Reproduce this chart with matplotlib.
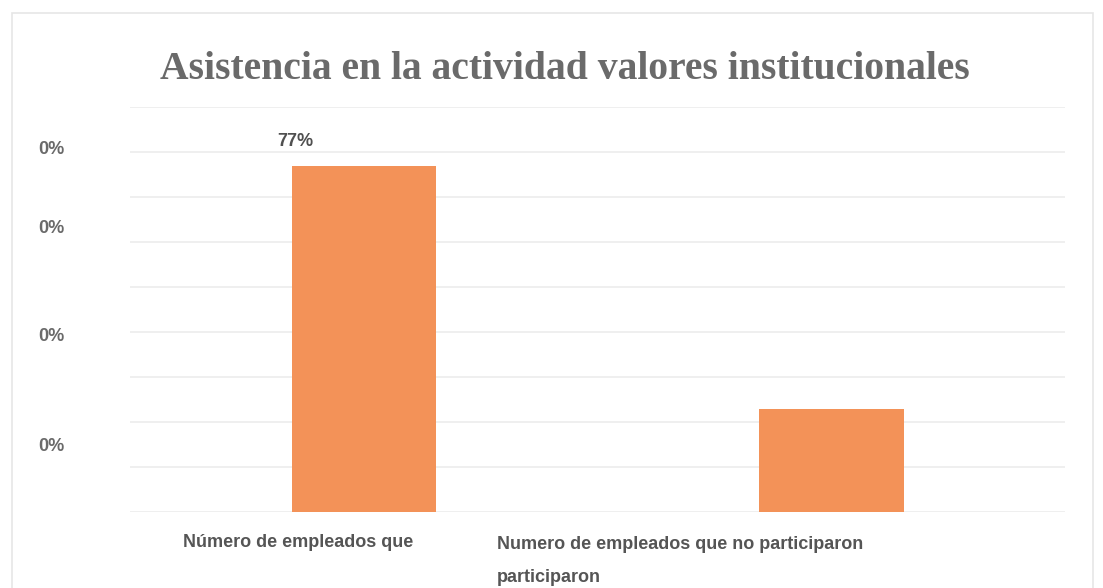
import matplotlib
matplotlib.use("Agg")
import matplotlib.pyplot as plt
from matplotlib.patches import Rectangle
from matplotlib.transforms import blended_transform_factory

# Data
categories = ["Número de empleados que", "Numero de empleados que no participaron"]
shares = [0.77, 0.23]
label_flags = [True, False]
ytick_values = [0.15, 0.395, 0.635, 0.81]
ytick_labels = ["0%", "0%", "0%", "0%"]
title = "Asistencia en la actividad valores institucionales"

bar_color = "#F39258"
grid_color = "#ececec"
text_color = "#555555"

fig = plt.figure(figsize=(11.03, 5.88), dpi=100)
fig.patch.set_facecolor("white")
ax = fig.add_axes([0.118, 0.129, 0.848, 0.689])

x = list(range(len(categories)))
bars = ax.bar(x, shares, width=0.31, color=bar_color, zorder=2)

ax.set_xlim(-0.5, 1.5)
ax.set_ylim(0, 0.9)

# horizontal gridlines every 10%
for g in [i / 10 for i in range(0, 10)]:
    ax.axhline(g, color=grid_color, lw=1.2, zorder=1)

for s in ax.spines.values():
    s.set_visible(False)

ax.set_yticks(ytick_values)
ax.set_yticklabels(ytick_labels, fontsize=13, color="#6a6a6a",
                   fontfamily="Liberation Sans", fontweight="bold")
ax.tick_params(axis="y", length=0, pad=47)
ax.tick_params(axis="x", length=0)
ax.set_xticks([])

# value label on the first bar
for rect, val, show in zip(bars, shares, label_flags):
    if show:
        ax.text(rect.get_x() - 0.03, val + 0.035, f"{val:.0%}",
                ha="left", va="bottom", fontsize=13, fontweight="bold",
                color="#505050", fontfamily="Liberation Sans")

# category labels
trans = blended_transform_factory(ax.transData, ax.transAxes)
lbl = dict(color=text_color, fontfamily="Liberation Sans",
           fontweight="bold", transform=trans, va="center")
ax.text(-0.14, -0.075, categories[0], ha="center", fontsize=13, **lbl)
ax.text(0.285, -0.08, categories[1], ha="left", fontsize=13, **lbl)
ax.text(0.285, -0.162, "participaron", ha="left", fontsize=13, **lbl)

fig.text(0.512, 0.882, title, ha="center", va="center", fontsize=28.5,
         fontweight="bold", color="#6a6a6a", fontfamily="Liberation Serif")

# outer chart frame
fig.patches.append(Rectangle((0.011, -0.01), 0.98, 0.988, transform=fig.transFigure,
                             fill=False, edgecolor="#e6e6e6", lw=1.2))

fig.savefig("out.png", dpi=100, facecolor="white")
